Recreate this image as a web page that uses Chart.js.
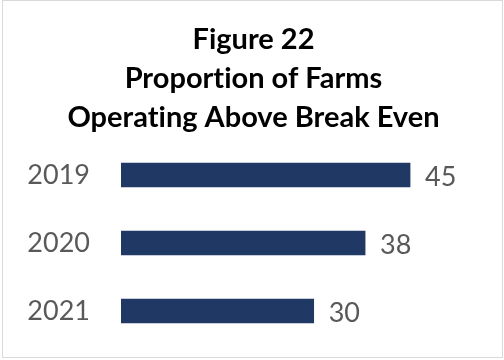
<!DOCTYPE html>
<html>
<head>
<meta charset="utf-8">
<script src="https://cdn.jsdelivr.net/npm/chart.js@4"></script>
<style>
  html, body { margin: 0; padding: 0; background: #fff; }
  #wrap { position: relative; width: 504px; height: 360px; }
  #frame { position: absolute; left: 2px; top: 0; width: 501px; height: 358px; border: 1px solid #d9d9d9; box-sizing: border-box; pointer-events: none; }
</style>
</head>
<body>
<div id="wrap">
  <canvas id="chart" width="504" height="360"></canvas>
  <div id="frame"></div>
</div>
<script>
const years = ["2019", "2020", "2021"];
const farmsAboveBreakEven = [45, 38, 30];
const titleLines = ["Figure 22", "Proportion of Farms", "Operating Above Break Even"];

const navy = "#203864";
const grey = "#595959";

// no "ti" ligatures in the title
const plainText = {
    id: "plainText",
    beforeDraw(chart) {
        chart.ctx.textRendering = "optimizeSpeed";
    }
};

// writes each bar's value just past its end
const valueLabels = {
    id: "valueLabels",
    afterDatasetsDraw(chart) {
        const ctx = chart.ctx;
        const meta = chart.getDatasetMeta(0);
        ctx.save();
        ctx.font = "27px Lato";
        ctx.fillStyle = grey;
        ctx.textAlign = "left";
        ctx.textBaseline = "middle";
        meta.data.forEach((bar, i) => {
            ctx.fillText(chart.data.datasets[0].data[i], bar.x + 15, bar.y + 2);
        });
        ctx.restore();
    }
};

const ctx = document.getElementById("chart").getContext("2d");
new Chart(ctx, {
    type: "bar",
    data: {
        labels: years,
        datasets: [{
            data: farmsAboveBreakEven,
            backgroundColor: navy,
            barThickness: 24
        }]
    },
    options: {
        indexAxis: "y",
        responsive: false,
        animation: false,
        layout: { padding: { top: 20, right: 4, bottom: 15, left: 7 } },
        plugins: {
            legend: { display: false },
            tooltip: { enabled: false },
            title: {
                display: true,
                text: titleLines,
                color: "#000",
                font: { family: "Lato", size: 29, weight: "bold", lineHeight: 1.345 },
                padding: { top: 0, bottom: 4 }
            }
        },
        scales: {
            x: {
                display: false,
                min: 0,
                max: 59
            },
            y: {
                grid: { display: false, drawTicks: false },
                border: { display: false },
                ticks: {
                    color: grey,
                    font: { family: "Lato", size: 27 },
                    padding: 31
                },
                afterFit(scale) {
                    // keep the label gap from eating vertical space
                    scale.width = 114;
                    scale.paddingTop = 0;
                    scale.paddingBottom = 0;
                }
            }
        }
    },
    plugins: [plainText, valueLabels]
});
</script>
</body>
</html>
